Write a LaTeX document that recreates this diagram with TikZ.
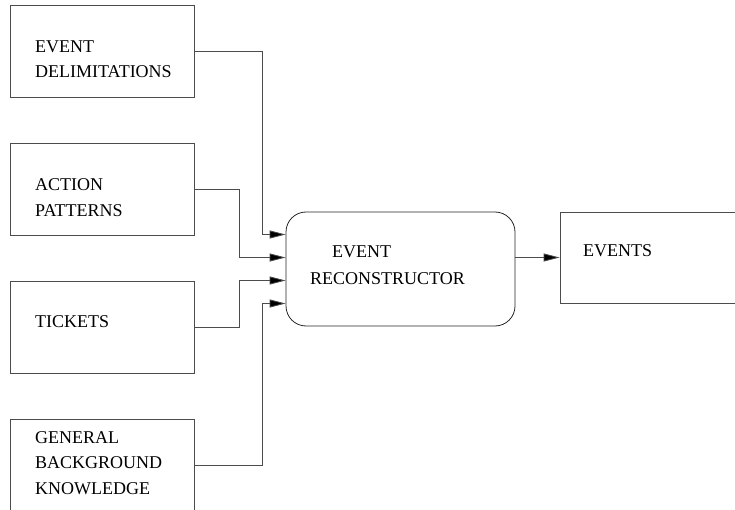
\documentclass[tikz,border=0pt]{standalone}
\usepackage{fontspec}
\setmainfont{Liberation Serif}
\usetikzlibrary{calc}
\usetikzlibrary{arrows.meta}

\begin{document}
\begin{tikzpicture}[x=1pt, y=-1pt,
  box/.style={draw=black!70, line width=0.8pt, minimum width=184pt, minimum height=92pt, inner sep=0pt},
  txt/.style={anchor=base west, inner sep=0pt, align=left, font=\fontsize{18}{25.5}\selectfont},
  flow/.style={draw=black!70, line width=0.8pt, -{Triangle[length=16pt, width=8pt, fill=black]}}]

\path[use as bounding box, clip] (0,0) rectangle (735,510);

% input boxes
\node[box] (delim) at (102,51) {};
\node[box] (action) at (102,189) {};
\node[box] (ticket) at (102,327) {};
\node[box] (knowl) at (102,465) {};

% reconstructor and output
\node[box, draw=black!85, rounded corners=20pt, minimum width=229pt, minimum height=114pt] (recon) at (400.5,269) {};
\node[box, minimum height=91pt] (events) at (652,257.5) {};

% base of the last line
\node[txt] (tdelim) at (35,78) {EVENT\\DELIMITATIONS};
\node[txt] (taction) at (35,216.5) {ACTION\\PATTERNS};
\node[txt] (tticket) at (35,327.5) {TICKETS};
\node[txt] (tknowl) at (35,494) {GENERAL\\BACKGROUND\\KNOWLEDGE};
\node[txt] (trecon1) at (332,258) {EVENT};
\node[txt] (trecon2) at (310,284) {RECONSTRUCTOR};
\node[txt] (tevents) at (583,257) {EVENTS};

\coordinate (in1) at ($(recon.west)+(0,-34.5)$);
\coordinate (in2) at ($(recon.west)+(0,-11.5)$);
\coordinate (in3) at ($(recon.west)+(0,11.5)$);
\coordinate (in4) at ($(recon.west)+(0,34.5)$);

\draw[flow] (delim.east) -| ($(in1)+(-23,0)$) -- (in1);
\draw[flow] (action.east) -| ($(in2)+(-46,0)$) -- (in2);
\draw[flow] (ticket.east) -| ($(in3)+(-46,0)$) -- (in3);
\draw[flow] (knowl.east) -| ($(in4)+(-23,0)$) -- (in4);
\draw[flow] (recon.east |- events.west) -- (events.west);

\end{tikzpicture}
\end{document}
